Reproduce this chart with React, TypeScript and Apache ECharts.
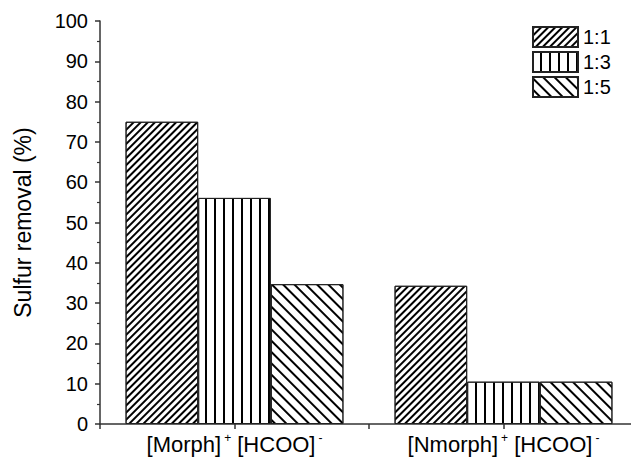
import React, { useEffect, useRef } from "react";
import * as echarts from "echarts";

const categories = ["Morph", "Nmorph"];
const seriesNames = ["1:1", "1:3", "1:5"];
const ratio11 = [75, 34.3];
const ratio13 = [56.1, 10.5];
const ratio15 = [34.7, 10.5];
const yTicks = { min: 0, max: 100, interval: 10 };

export default function App() {
  const ref = useRef<HTMLDivElement>(null);
  useEffect(() => {
    const chart = echarts.init(ref.current!, null, { renderer: "svg" });
    const font = "Liberation Sans, Arial, sans-serif";
    const decals = [
      { symbol: "rect", symbolSize: 1, dashArrayX: [1, 0], dashArrayY: [1.9, 2.4], rotation: -Math.PI / 4, color: "#000", backgroundColor: null },
      { symbol: "rect", symbolSize: 1, dashArrayX: [1, 0], dashArrayY: [1.5, 6.5], rotation: Math.PI / 2, color: "#000", backgroundColor: null },
      { symbol: "rect", symbolSize: 1, dashArrayX: [1, 0], dashArrayY: [1.8, 6.0], rotation: Math.PI / 4, color: "#000", backgroundColor: null },
    ];
    const data = [ratio11, ratio13, ratio15];
    chart.setOption({
      animation: false,
      textStyle: { fontFamily: font },
      grid: { left: 100, top: 21, bottom: 35, width: 538, containLabel: false },
      legend: {
        orient: "vertical",
        left: 532,
        top: 26,
        padding: 0,
        icon: "rect",
        itemWidth: 45,
        itemHeight: 20,
        itemGap: 3,
        textStyle: { fontSize: 20, color: "#000", fontFamily: font, padding: [0, 0, 0, 0] },
        data: seriesNames,
      },
      xAxis: [
        {
          type: "category",
          data: categories,
          position: "bottom",
          boundaryGap: true,
          axisLine: { lineStyle: { color: "#333", width: 1.5 } },
          axisTick: { show: true, length: 5, inside: false, lineStyle: { color: "#333", width: 1.5 } },
          axisLabel: {
            interval: 0,
            margin: 8,
            color: "#000",
            fontSize: 22,
            formatter: (v: string) => `[${v}]{sup|+} [HCOO]{sup|-}`,
            rich: { sup: { fontSize: 12, verticalAlign: "top", color: "#000", padding: [0, 0, 13, 3] } },
          },
          splitLine: { show: false },
        },
        {
          type: "category",
          data: categories,
          position: "bottom",
          boundaryGap: true,
          axisLine: { show: false },
          axisTick: { show: true, alignWithLabel: true, length: 5, lineStyle: { color: "#333", width: 1.5 } },
          axisLabel: { show: false },
          splitLine: { show: false },
        },
      ],
      yAxis: {
        type: "value",
        min: yTicks.min,
        max: yTicks.max,
        interval: yTicks.interval,
        name: "Sulfur removal (%)",
        nameLocation: "middle",
        nameGap: 66,
        nameTextStyle: { fontSize: 23, color: "#000", fontFamily: font },
        axisLine: { show: true, lineStyle: { color: "#333", width: 1.5 } },
        axisTick: { show: true, length: 5, lineStyle: { color: "#333", width: 1.5 } },
        minorTick: { show: true, splitNumber: 2, length: 3, lineStyle: { color: "#333", width: 1.2 } },
        axisLabel: { color: "#000", fontSize: 20, margin: 12 },
        splitLine: { show: false },
      },
      series: seriesNames.map((name, i) => ({
        name,
        type: "bar",
        data: data[i],
        barGap: "0%",
        barCategoryGap: "19%",
        itemStyle: { color: "#fff", borderColor: "#222", borderWidth: 1, decal: decals[i] },
      })),
    });
    return () => chart.dispose();
  }, []);
  return (
    <div style={{ position: "absolute", left: 0, top: 0, width: 631, height: 459, overflow: "hidden" }}>
      <div ref={ref} style={{ width: 660, height: 459 }} />
    </div>
  );
}
